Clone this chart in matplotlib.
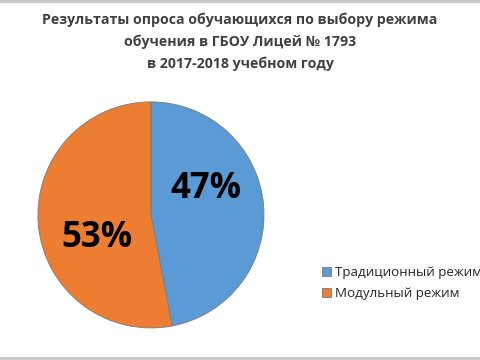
import matplotlib.pyplot as plt
from matplotlib.lines import Line2D

plt.rcParams['font.family'] = ['Open Sans', 'DejaVu Sans']

# данные опроса
labels = ['Традиционный режим', 'Модульный режим']
values = [47, 53]
colors = ['#5B9BD5', '#ED7D31']
pct_text = ['47%', '53%']
title = ('Результаты опроса обучающихся по выбору режима\n'
         'обучения в ГБОУ Лицей № 1793\n'
         'в 2017-2018 учебном году')

fig = plt.figure(figsize=(4.8, 3.6), dpi=100)
fig.patch.set_facecolor('white')

# серые полосы сверху и снизу
fig.add_artist(Line2D([0, 1], [0.997, 0.997], color='#c8c8c8', lw=2.5))
fig.add_artist(Line2D([0, 1], [0.004, 0.004], color='#c8c8c8', lw=3))

fig.text(0.5, 0.965, title, ha='center', va='top', fontsize=10.2,
         fontweight='bold', color='#404040', linespacing=1.65)

ax = fig.add_axes([0.079, 0.089, 0.471, 0.628])
wedges, _ = ax.pie(values, colors=colors, startangle=90, counterclock=False,
                   wedgeprops=dict(edgecolor='#7a7a7a', linewidth=0.6))
ax.set_xlim(-1, 1)
ax.set_ylim(-1, 1)
ax.set_aspect('equal')

# подписи процентов
ax.text(0.49, 0.23, pct_text[0], ha='center', va='center', fontsize=25,
        fontweight='bold', color='black')
ax.text(-0.48, -0.20, pct_text[1], ha='center', va='center', fontsize=25,
        fontweight='bold', color='black')

fig.legend(wedges, labels, loc='upper left', bbox_to_anchor=(0.66, 0.275),
           frameon=False, fontsize=9.6, handlelength=0.7, handleheight=0.7,
           handletextpad=0.3, labelspacing=0.6, borderaxespad=0)
for t in fig.legends[0].get_texts():
    t.set_color('#262626')

fig.savefig('out.png', dpi=100)
